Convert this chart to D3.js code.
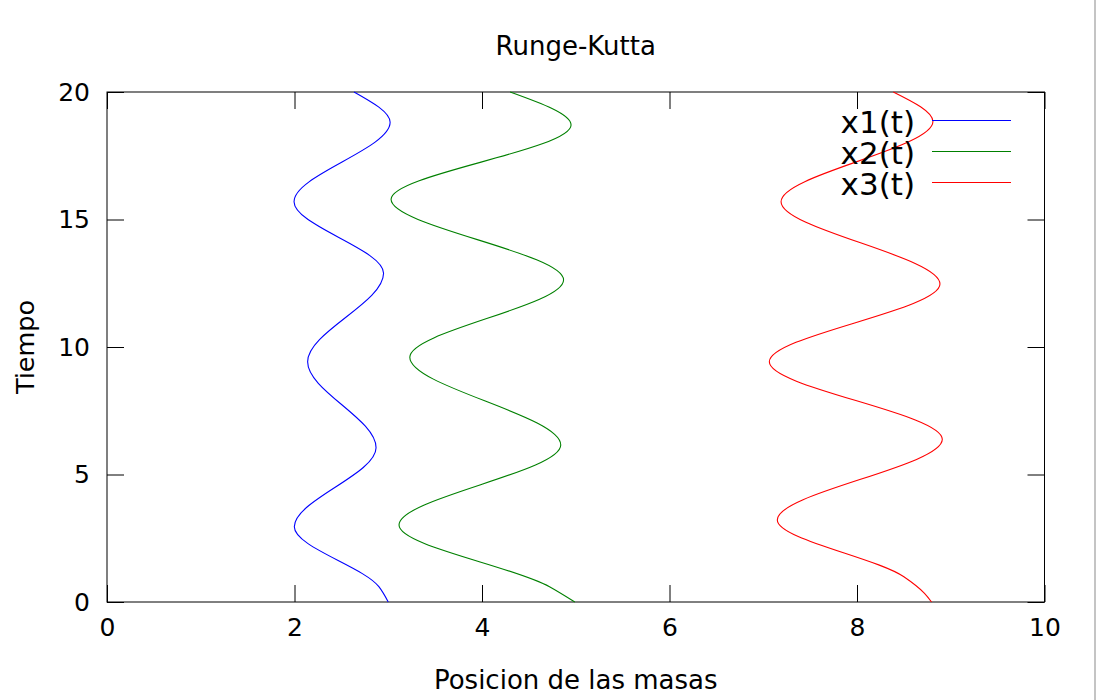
<!DOCTYPE html>
<html>
<head>
<meta charset="utf-8">
<script src="https://cdn.jsdelivr.net/npm/d3@7"></script>
<style>
  html, body { margin: 0; padding: 0; background: #fff; }
  svg { display: block; font-family: "DejaVu Sans", sans-serif; }
</style>
</head>
<body>
<svg id="chart" width="1096" height="700"></svg>
<script>
// ---- data (start, early point, turning points, end) ----
const seriesNames = ["x1(t)", "x2(t)", "x3(t)"];
const seriesColors = ["#0000ff", "#008000", "#ff0000"];

const t1 = [0, 0.6, 2.95, 6.05, 9.42, 12.89, 15.70, 18.81, 20];
const x1 = [3.0, 2.9, 1.998, 2.87, 2.14, 2.95, 1.995, 3.02, 2.635];

const t2 = [0, 0.6, 3.02, 6.16, 9.6, 12.63, 15.79, 18.71, 20];
const x2 = [4.99, 4.72, 3.115, 4.84, 3.23, 4.87, 3.03, 4.95, 4.30];

const t3 = [0, 0.34, 0.99, 3.22, 6.38, 9.42, 12.47, 15.70, 18.84, 20];
const x3 = [8.795, 8.72, 8.5, 7.15, 8.91, 7.065, 8.885, 7.19, 8.81, 8.387];

const xTicks = [0, 2, 4, 6, 8, 10];
const yTicks = [0, 5, 10, 15, 20];
const titleText = "Runge-Kutta";
const xLabel = "Posicion de las masas";
const yLabel = "Tiempo";

(function () {
// ---- layout ----
const svg = d3.select("#chart");
const pLeft = 107, pRight = 1044.5, pTop = 92, pBottom = 602;
const x = d3.scaleLinear().domain([0, 10]).range([pLeft, pRight]);
const y = d3.scaleLinear().domain([0, 20]).range([pBottom, pTop]);

// right-edge gray strip
svg.append("rect").attr("x", 1094).attr("y", 0).attr("width", 2).attr("height", 700).attr("fill", "#c4c4c4");

const tickLen = 17;
const fs = 25;

// axes (ticks inward, mirrored)
const axB = svg.append("g").attr("transform", `translate(0,${pBottom})`)
  .call(d3.axisBottom(x).tickValues(xTicks).tickSize(-tickLen).tickPadding(16).tickFormat(d3.format("d")));
const axT = svg.append("g").attr("transform", `translate(0,${pTop})`)
  .call(d3.axisTop(x).tickValues(xTicks).tickSize(-tickLen).tickFormat(""));
const axL = svg.append("g").attr("transform", `translate(${pLeft},0)`)
  .call(d3.axisLeft(y).tickValues(yTicks).tickSize(-tickLen).tickPadding(17).tickFormat(d3.format("d")));
const axR = svg.append("g").attr("transform", `translate(${pRight},0)`)
  .call(d3.axisRight(y).tickValues(yTicks).tickSize(-tickLen).tickFormat(""));

[axB, axT, axL, axR].forEach(g => {
  g.select(".domain").remove();
  g.selectAll("line").attr("stroke", "#000").attr("stroke-width", 1);
  g.selectAll("text").attr("fill", "#000").attr("font-family", "DejaVu Sans").attr("font-size", fs);
});

// border
svg.append("rect").attr("x", pLeft).attr("y", pTop).attr("width", pRight - pLeft).attr("height", pBottom - pTop)
  .attr("fill", "none").attr("stroke", "#000").attr("stroke-width", 1);

// curves
const line = d3.line().x(d => x(d[1])).y(d => y(d[0])).curve(d3.curveMonotoneY);
const data = [d3.zip(t1, x1), d3.zip(t2, x2), d3.zip(t3, x3)];
const plot = svg.append("g");
data.forEach((pts, i) => {
  plot.append("path").datum(pts).attr("d", line).attr("fill", "none")
    .attr("stroke", seriesColors[i]).attr("stroke-width", 1.1);
});

// legend
const leg = svg.append("g");
seriesNames.forEach((name, i) => {
  const yy = 120.5 + i * 31;
  leg.append("text").attr("x", 915).attr("y", yy + 12).attr("text-anchor", "end")
    .attr("font-size", 31).attr("fill", "#000").text(name);
  leg.append("line").attr("x1", 932).attr("x2", 1011).attr("y1", yy).attr("y2", yy)
    .attr("stroke", seriesColors[i]).attr("stroke-width", 1);
});

// title & labels
svg.append("text").attr("x", (pLeft + pRight) / 2).attr("y", 55).attr("text-anchor", "middle")
  .attr("font-size", 26).attr("fill", "#000").text(titleText);
svg.append("text").attr("x", (pLeft + pRight) / 2).attr("y", 689).attr("text-anchor", "middle")
  .attr("font-size", 26).attr("fill", "#000").text(xLabel);
svg.append("text").attr("transform", `translate(34,347) rotate(-90)`).attr("text-anchor", "middle")
  .attr("font-size", 25.5).attr("fill", "#000").text(yLabel);
})();
</script>
</body>
</html>
